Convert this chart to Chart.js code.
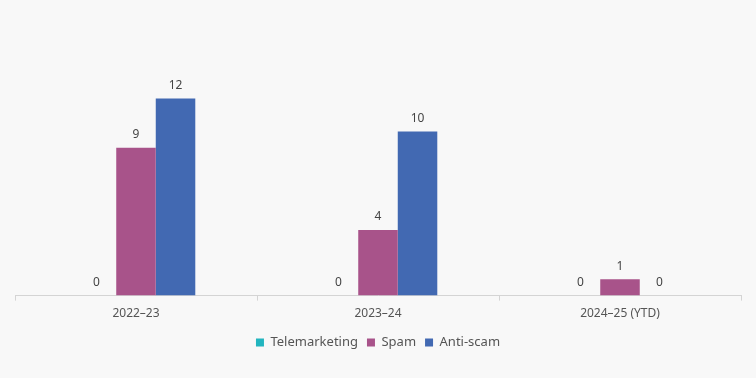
<!DOCTYPE html>
<html><head><meta charset="utf-8">
<script src="https://cdn.jsdelivr.net/npm/chart.js@4"></script>
<style>html,body{margin:0;padding:0;background:#f8f8f8;}#wrap{width:756px;height:378px;}</style>
</head><body><div id="wrap"><canvas id="c" width="756" height="378"></canvas></div>
<script>
const categories = ["2022\u201323", "2023\u201324", "2024\u201325 (YTD)"];
const telemarketing = [0, 0, 0];
const spam = [9, 4, 1];
const antiScam = [12, 10, 0];
const seriesNames = ["Telemarketing", "Spam", "Anti-scam"];

const FONT = "'Noto Sans', sans-serif";
const labelPlugin = {
  id: 'vals',
  afterDatasetsDraw(chart) {
    const ctx = chart.ctx;
    ctx.save();
    ctx.font = "12px " + FONT;
    ctx.fillStyle = "#444";
    ctx.textAlign = "center";
    ctx.textBaseline = "bottom";
    chart.data.datasets.forEach((ds, i) => {
      const meta = chart.getDatasetMeta(i);
      meta.data.forEach((el, j) => {
        ctx.fillText(String(ds.data[j]), el.x, el.y - 7);
      });
    });
    ctx.restore();
  }
};

new Chart(document.getElementById('c'), {
  type: 'bar',
  data: {
    labels: categories,
    datasets: [
      {label: seriesNames[0], data: telemarketing, backgroundColor: '#22b5bf'},
      {label: seriesNames[1], data: spam, backgroundColor: '#a8538a'},
      {label: seriesNames[2], data: antiScam, backgroundColor: '#4269b2'}
    ]
  },
  options: {
    responsive: false,
    animation: false,
    layout: {padding: {left: 15, right: 15, top: 0, bottom: 19}},
    datasets: {bar: {categoryPercentage: 0.49, barPercentage: 1.0}},
    plugins: {
      legend: {
        position: 'bottom',
        labels: {boxWidth: 8, boxHeight: 8, padding: 9, color: '#555', font: {family: FONT, size: 13}}
      },
      tooltip: {enabled: false}
    },
    scales: {
      x: {
        offset: true,
        border: {color: '#d4d4d4'},
        grid: {display: true, drawOnChartArea: false, offset: true, tickLength: 5, color: '#d4d4d4'},
        ticks: {color: '#555', font: {family: FONT, size: 12}, padding: 6}
      },
      y: {display: false, min: 0, max: 18}
    }
  },
  plugins: [labelPlugin]
});
</script></body></html>
